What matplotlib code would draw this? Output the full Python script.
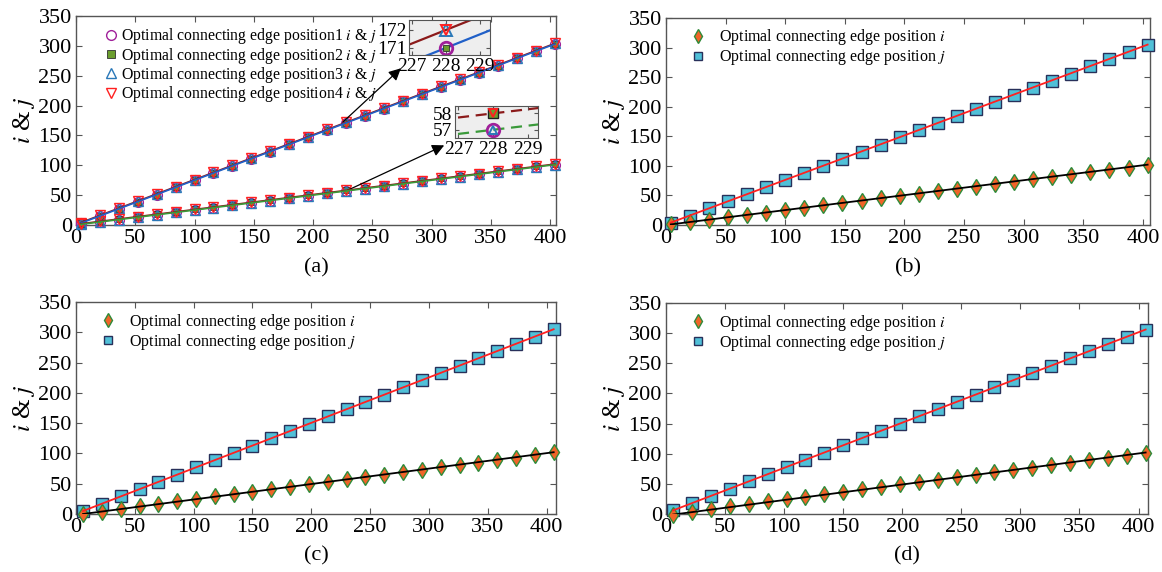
import numpy as np
import matplotlib
matplotlib.use("Agg")
import matplotlib.pyplot as plt

plt.rcParams["font.family"] = ["Liberation Serif", "DejaVu Serif"]
plt.rcParams["mathtext.fontset"] = "stix"

# ---- data ----
x_ab = [4, 20, 36, 52, 68, 84, 100, 116, 132, 148, 164, 180, 196, 212, 228,
        244, 260, 276, 292, 308, 324, 340, 356, 372, 388, 404]
x_cd = [6, 22, 38, 54, 70, 86, 102, 118, 134, 150, 166, 182, 198, 214, 230,
        246, 262, 278, 294, 310, 326, 342, 358, 374, 390, 406]

# panel (a): four optimal positions (i and j)
i_pos13 = [1, 5, 9, 13, 17, 21, 25, 29, 33, 37, 41, 45, 49, 53, 57,
           61, 65, 69, 73, 77, 81, 85, 89, 93, 97, 101]
i_pos24 = [2, 6, 10, 14, 18, 22, 26, 30, 34, 38, 42, 46, 50, 54, 58,
           62, 66, 70, 74, 78, 82, 86, 90, 94, 98, 102]
j_pos12 = [3, 15, 27, 39, 51, 63, 75, 87, 99, 111, 123, 135, 147, 159, 171,
           183, 195, 207, 219, 231, 243, 255, 267, 279, 291, 303]
j_pos34 = [4, 16, 28, 40, 52, 64, 76, 88, 100, 112, 124, 136, 148, 160, 172,
           184, 196, 208, 220, 232, 244, 256, 268, 280, 292, 304]

# panel (b)
i_b = [1, 5, 9, 13, 17, 21, 25, 29, 33, 37, 41, 45, 49, 53, 57,
       61, 65, 69, 73, 77, 81, 85, 89, 93, 97, 102]
j_b = [4, 16, 28, 40, 52, 64, 76, 88, 100, 112, 124, 136, 148, 160, 172,
       184, 196, 208, 220, 232, 244, 256, 268, 280, 292, 305]
# panel (c)
i_c = [0, 4, 8, 13, 17, 21, 25, 29, 33, 37, 41, 45, 49, 53, 57,
       61, 65, 69, 73, 77, 81, 85, 89, 93, 97, 102]
j_c = [5, 17, 29, 41, 53, 65, 77, 89, 101, 113, 125, 137, 149, 161, 173,
       185, 197, 209, 221, 233, 245, 257, 269, 281, 293, 305]
# panel (d)
i_d = [-1, 4, 9, 13, 17, 21, 25, 29, 33, 37, 41, 45, 49, 53, 57,
       61, 65, 69, 73, 77, 81, 85, 89, 93, 97, 102]
j_d = [6, 18, 30, 42, 54, 66, 78, 90, 102, 114, 126, 138, 150, 162, 174,
       186, 198, 210, 222, 234, 246, 258, 270, 282, 294, 306]

pos_labels = [r"Optimal connecting edge position%d $i$ & $j$" % k for k in range(1, 5)]
lab_i = r"Optimal connecting edge position $i$"
lab_j = r"Optimal connecting edge position $j$"

TICK_FS = 16
SPINE_C = "#555555"

C_MAG = "#a0209a"
C_SQ = "#6b9e2e"
C_TRI = "#2a78b8"
C_RED = "#ff2020"
C_BLUE_LN = "#2060c8"
C_DRED = "#8b1a1a"
C_GRN_LN = "#3a9a3a"

DIA_FACE = "#f06428"
DIA_EDGE = "#2e8b3a"
SQ_FACE = "#50c0d8"
SQ_EDGE = "#28305a"


def style_axes(ax, xmax, fs=TICK_FS):
    ax.set_xlim(0, xmax)
    ax.set_ylim(0, 350)
    ax.set_xticks(np.arange(0, 401, 50))
    ax.set_yticks(np.arange(0, 351, 50))
    ax.tick_params(direction="in", top=True, right=True, length=4,
                   labelsize=fs, color=SPINE_C, pad=3)
    for s in ax.spines.values():
        s.set_color(SPINE_C)
        s.set_linewidth(1.0)
    ax.set_ylabel(r"$i$ & $j$", fontsize=18, labelpad=1)


fig = plt.figure(figsize=(11.62, 5.72), dpi=100)
W, H = 1162, 572


def add_ax(l, t, r, b):
    return fig.add_axes([l / W, 1 - b / H, (r - l) / W, (b - t) / H])


ax_a = add_ax(76, 16, 556, 225)
ax_b = add_ax(666, 18, 1150, 225)
ax_c = add_ax(76, 302, 556, 514)
ax_d = add_ax(666, 303, 1148, 514)

# ---- panel (a) ----
mk = dict(ms=7, lw=0, clip_on=False, zorder=3)
sq = dict(mfc=C_SQ, mec="#303030", mew=0.6, ms=5, lw=0, clip_on=False, zorder=3)
ax_a.plot(x_ab, i_pos13, "o", mfc="none", mec=C_MAG, mew=1.0, **mk)
ax_a.plot(x_ab, j_pos12, "o", mfc="none", mec=C_MAG, mew=1.0, **mk)
ax_a.plot(x_ab, i_pos24, "s", **sq)
ax_a.plot(x_ab, j_pos12, "s", **sq)
ax_a.plot(x_ab, i_pos13, "^", mfc="none", mec=C_TRI, mew=1.0, **mk)
ax_a.plot(x_ab, j_pos34, "^", mfc="none", mec=C_TRI, mew=1.0, **mk)
ax_a.plot(x_ab, i_pos24, "v", mfc="none", mec=C_RED, mew=1.0, **mk)
ax_a.plot(x_ab, j_pos34, "v", mfc="none", mec=C_RED, mew=1.0, **mk)
ax_a.plot(x_ab, j_pos34, "-", color=C_DRED, lw=1.2, zorder=4)
ax_a.plot(x_ab, j_pos12, "-", color=C_BLUE_LN, lw=1.2, zorder=4)
ax_a.plot(x_ab, i_pos24, "-", color=C_DRED, lw=1.2, zorder=4)
ax_a.plot(x_ab, i_pos13, "-", color=C_GRN_LN, lw=1.2, zorder=4)
style_axes(ax_a, 405)

# legend handles for (a)
h = [
    ax_a.plot([], [], "o", mfc="none", mec=C_MAG, mew=1.0, ms=7)[0],
    ax_a.plot([], [], "s", mfc=C_SQ, mec="#303030", mew=0.6, ms=6)[0],
    ax_a.plot([], [], "^", mfc="none", mec=C_TRI, mew=1.0, ms=7)[0],
    ax_a.plot([], [], "v", mfc="none", mec=C_RED, mew=1.0, ms=7)[0],
]
ax_a.legend(h, pos_labels, loc="upper left", bbox_to_anchor=(0.05, 0.98),
            frameon=False, fontsize=11.3, handlelength=0.6, handletextpad=0.35,
            labelspacing=-0.05, borderaxespad=0)


# insets in (a)
def make_inset(l, t, r, b, ylo, yhi, yt):
    ins = add_ax(l, t, r, b)
    ins.set_facecolor("#eeeeee")
    ins.set_xlim(226.9, 229.3)
    ins.set_ylim(ylo, yhi)
    ins.set_xticks([227, 228, 229])
    ins.set_yticks(yt)
    ins.tick_params(direction="in", top=True, right=True, length=3,
                    labelsize=14, color=SPINE_C, pad=2)
    for s in ins.spines.values():
        s.set_color(SPINE_C)
    return ins


ins1 = make_inset(409, 20, 490, 55, 170.6, 172.55, [171, 172])
ins1.plot(x_ab, j_pos34, "-", color=C_DRED, lw=1.6)
ins1.plot(x_ab, j_pos12, "-", color=C_BLUE_LN, lw=1.6)
ins1.plot(x_ab, j_pos12, "o", mfc="none", mec=C_MAG, mew=2.0, ms=9)
ins1.plot(x_ab, j_pos12, "s", mfc=C_SQ, mec="#303030", mew=0.6, ms=5)
ins1.plot(x_ab, j_pos34, "^", mfc="none", mec=C_TRI, mew=1.4, ms=9)
ins1.plot(x_ab, j_pos34, "v", mfc="none", mec=C_RED, mew=1.4, ms=7)

ins2 = make_inset(455, 106, 538, 138, 56.5, 58.45, [57, 58])
ins2.plot(x_ab, i_pos24, "--", color=C_DRED, lw=1.6, dashes=(5, 3))
ins2.plot(x_ab, i_pos13, "--", color=C_GRN_LN, lw=1.6, dashes=(5, 3))
ins2.plot(x_ab, i_pos24, "s", mfc=C_SQ, mec="#202020", mew=1.0, ms=7)
ins2.plot(x_ab, i_pos24, "v", mfc="none", mec=C_RED, mew=1.4, ms=6)
ins2.plot(x_ab, i_pos13, "o", mfc="none", mec=C_MAG, mew=2.0, ms=9)
ins2.plot(x_ab, i_pos13, "^", mfc="none", mec=C_TRI, mew=1.4, ms=6)

arrow = dict(arrowstyle="-|>", color="black", lw=0.9, mutation_scale=18,
             shrinkA=0, shrinkB=0)
ax_a.annotate("", xy=(-0.10, -0.38), xycoords=ins1.transAxes,
              xytext=(225, 172), textcoords="data", arrowprops=arrow)
ax_a.annotate("", xy=(-0.13, -0.23), xycoords=ins2.transAxes,
              xytext=(229, 58), textcoords="data", arrowprops=arrow)


# ---- panels (b), (c), (d) ----
def ij_panel(ax, xs, iv, jv, xmax):
    ax.plot(xs, jv, "s", mfc=SQ_FACE, mec=SQ_EDGE, mew=1.0, ms=8,
            clip_on=False, zorder=3, label=lab_j)
    ax.plot(xs, iv, "d", mfc=DIA_FACE, mec=DIA_EDGE, mew=1.0, ms=8.5,
            clip_on=False, zorder=3, label=lab_i)
    ax.plot([xs[0], xs[-1]], [jv[0], jv[-1]], "-", color=C_RED, lw=1.3, zorder=4)
    ax.plot([xs[0], xs[-1]], [iv[0], iv[-1]], "-", color="black", lw=1.3, zorder=4)
    style_axes(ax, xmax)
    hd = ax.get_legend_handles_labels()[0]
    ax.legend([hd[1], hd[0]], [lab_i, lab_j], loc="upper left",
              bbox_to_anchor=(0.04, 0.985), frameon=False, fontsize=11.5,
              handlelength=0.8, handletextpad=0.9, labelspacing=0.0,
              borderaxespad=0, markerscale=0.8)


ij_panel(ax_b, x_ab, i_b, j_b, 406)
ij_panel(ax_c, x_cd, i_c, j_c, 408)
ij_panel(ax_d, x_cd, i_d, j_d, 408)

for ax, lab, y in [(ax_a, "(a)", 268), (ax_b, "(b)", 268),
                   (ax_c, "(c)", 556), (ax_d, "(d)", 556)]:
    bb = ax.get_position()
    fig.text((bb.x0 + bb.x1) / 2, 1 - y / H, lab, ha="center", va="center",
             fontsize=16)

fig.savefig("out.png", dpi=100)
